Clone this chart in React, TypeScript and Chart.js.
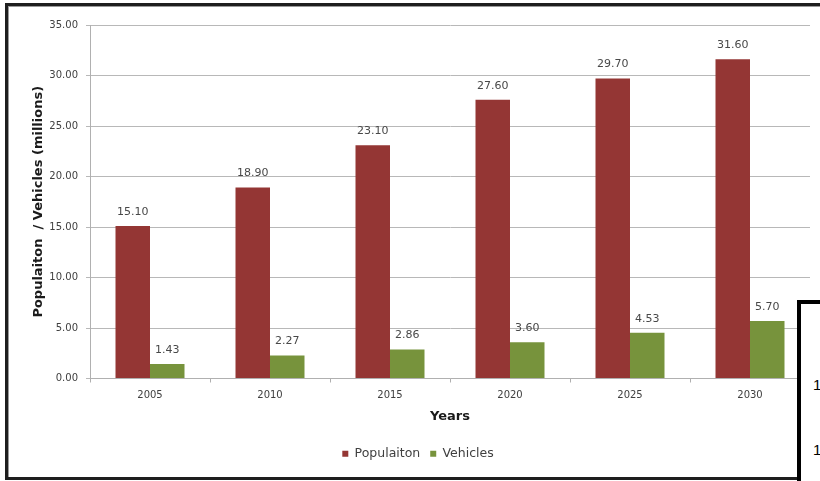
import React, { useEffect, useRef } from "react";
import { Chart, registerables } from "chart.js";

Chart.register(...registerables);

const years = ["2005", "2010", "2015", "2020", "2025", "2030"];
const population = [15.1, 18.9, 23.1, 27.6, 29.7, 31.6];
const vehicles = [1.43, 2.27, 2.86, 3.6, 4.53, 5.7];
const seriesNames = ["Populaiton", "Vehicles"];
const yTitle = "Populaiton  / Vehicles (millions)";
const xTitle = "Years";
const yMin = 0;
const yMax = 35;
const yStep = 5;

const FONT = "'DejaVu Sans', Verdana, sans-serif";

const valueLabels = {
  id: "valueLabels",
  afterDatasetsDraw(chart: any) {
    const ctx = chart.ctx;
    ctx.save();
    ctx.font = `11px ${FONT}`;
    ctx.fillStyle = "#484848";
    ctx.textAlign = "center";
    ctx.textBaseline = "middle";
    chart.data.datasets.forEach((ds: any, i: number) => {
      const meta = chart.getDatasetMeta(i);
      meta.data.forEach((el: any, j: number) => {
        ctx.fillText(Number(ds.data[j]).toFixed(2), el.x, el.y - 14);
      });
    });
    ctx.restore();
  },
};

export default function App() {
  const ref = useRef<HTMLCanvasElement | null>(null);
  useEffect(() => {
    if (!ref.current) return;
    const chart = new Chart(ref.current, {
      type: "bar",
      data: {
        labels: years,
        datasets: [
          {
            label: seriesNames[0],
            data: population,
            backgroundColor: "#943634",
            categoryPercentage: 0.575,
            barPercentage: 1,
          },
          {
            label: seriesNames[1],
            data: vehicles,
            backgroundColor: "#77933C",
            categoryPercentage: 0.575,
            barPercentage: 1,
          },
        ],
      },
      options: {
        animation: false,
        responsive: false,
        maintainAspectRatio: false,
        layout: { padding: { top: 25, right: 10, bottom: 11, left: 26 } },
        plugins: {
          tooltip: { enabled: false },
          legend: {
            position: "bottom",
            labels: {
              boxWidth: 6,
              boxHeight: 6,
              padding: 10,
              color: "#404040",
              font: { family: FONT, size: 12.5 },
            },
          },
        },
        scales: {
          x: {
            afterFit: (s: any) => {
              s.height = 59;
            },
            grid: {
              offset: true,
              drawOnChartArea: false,
              tickLength: 4,
              color: "#b0b0b0",
            },
            border: { color: "#b0b0b0" },
            ticks: {
              padding: 7,
              color: "#404040",
              font: { family: FONT, size: 10 },
            },
            title: {
              display: true,
              text: xTitle,
              color: "#1a1a1a",
              padding: { top: 4, bottom: 13 },
              font: { family: FONT, size: 13, weight: "bold" },
            },
          },
          y: {
            min: yMin,
            max: yMax,
            afterFit: (s: any) => {
              s.width = 64;
            },
            grid: { color: "#b8b8b8", tickLength: 4 },
            border: { color: "#b0b0b0" },
            ticks: {
              stepSize: yStep,
              padding: 8,
              color: "#404040",
              font: { family: FONT, size: 10 },
              callback: (v: any) => Number(v).toFixed(2),
            },
            title: {
              display: true,
              text: yTitle,
              color: "#1a1a1a",
              padding: { top: 5, bottom: 4 },
              font: { family: FONT, size: 13, weight: "bold" },
            },
          },
        },
      },
      plugins: [valueLabels],
    });
    return () => chart.destroy();
  }, []);

  return (
    <div
      style={{
        position: "fixed",
        left: 0,
        top: 0,
        width: 820,
        height: 481,
        overflow: "hidden",
        background: "#fff",
      }}
    >
      <div
        style={{
          position: "absolute",
          left: 5,
          top: 3,
          width: 840,
          height: 477,
          boxSizing: "border-box",
          border: "3px solid #1e1e1e",
          boxShadow: "inset 1px 1px 0 #9a9a9a",
        }}
      />
      <canvas
        ref={ref}
        width={820}
        height={481}
        style={{ position: "absolute", left: 0, top: 0, width: 820, height: 481 }}
      />
      <div
        style={{
          position: "absolute",
          left: 797,
          top: 300,
          width: 60,
          height: 220,
          boxSizing: "border-box",
          border: "4px solid #000",
          background: "#fff",
          fontFamily: "'Liberation Sans', Arial, sans-serif",
          fontSize: 15,
          color: "#000",
        }}
      >
        <div style={{ position: "absolute", left: 12, top: 72 }}>1</div>
        <div style={{ position: "absolute", left: 12, top: 137 }}>1</div>
      </div>
    </div>
  );
}
